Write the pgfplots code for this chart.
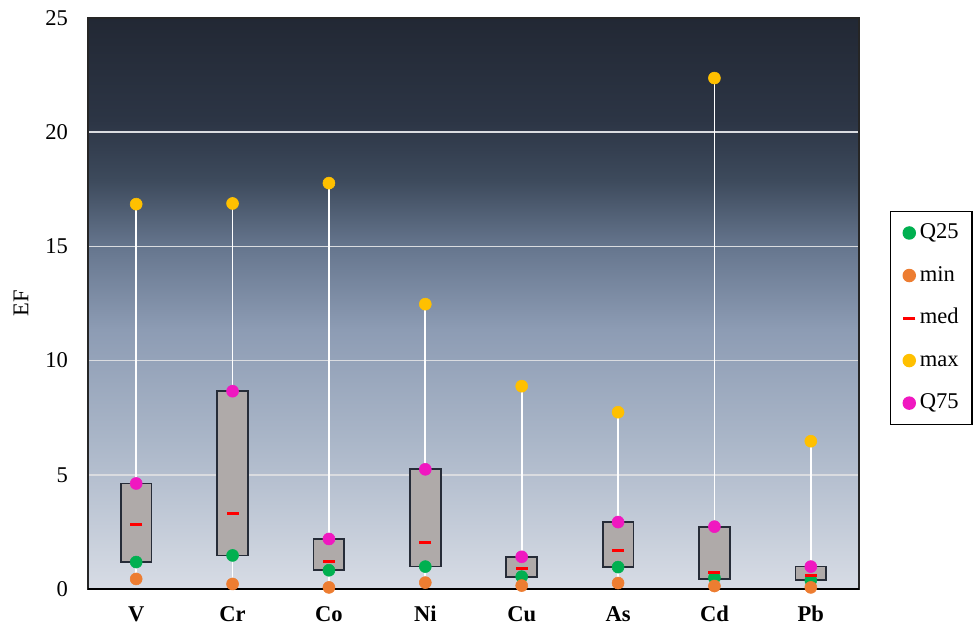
\documentclass[border=0pt]{standalone}
\usepackage{fontspec}
\setmainfont{Liberation Serif}
\usepackage{pgfplots}
\pgfplotsset{compat=1.18}
\usepgfplotslibrary{statistics}
\definecolor{q25c}{RGB}{0,176,80}
\definecolor{minc}{RGB}{237,125,49}
\definecolor{medc}{RGB}{255,0,0}
\definecolor{maxc}{RGB}{255,192,0}
\definecolor{q75c}{RGB}{240,24,192}
\definecolor{boxfill}{RGB}{175,170,169}
\definecolor{boxedge}{RGB}{38,44,56}
\definecolor{gridc}{RGB}{218,220,224}
\definecolor{bg0}{RGB}{215,220,229}
\definecolor{bg1}{RGB}{170,182,200}
\definecolor{bg2}{RGB}{141,156,180}
\definecolor{bg3}{RGB}{102,118,142}
\definecolor{bg4}{RGB}{61,74,92}
\definecolor{bg5}{RGB}{44,53,69}
\definecolor{bg6}{RGB}{34,40,52}
\pgfdeclareverticalshading{plotbg}{100bp}{color(0bp)=(bg0); color(25bp)=(bg0); color(38.05bp)=(bg1); color(47.7bp)=(bg2); color(54.95bp)=(bg3); color(60.8bp)=(bg4); color(66.05bp)=(bg5); color(75bp)=(bg6); color(100bp)=(bg6)}
\newcommand\chartfont{\fontsize{16.9}{20}\selectfont}
\begin{document}
\begin{tikzpicture}
\useasboundingbox (-66pt,-28.5pt) rectangle (664.5pt,441.75pt);
\begin{axis}[
  at={(0,0)}, anchor=south west,
  scale only axis, width=578.25pt, height=428.25pt,
  xmin=-0.5, xmax=7.5, ymin=0, ymax=25,
  xtick={0,1,2,3,4,5,6,7},
  xticklabels={V,Cr,Co,Ni,Cu,As,Cd,Pb},
  ytick={0,5,10,15,20,25},
  major tick length=0pt,
  ymajorgrids,
  grid style={line width=1.2pt, color=gridc},
  axis background/.style={shade, shading=plotbg},
  axis line style={black!85, line width=1pt},
  clip=false,
  /pgf/number format/assume math mode=true,
  yticklabel style={font=\chartfont, anchor=east, xshift=-11.5pt},
  xticklabel style={font=\chartfont\bfseries, anchor=north, inner ysep=1pt, yshift=-11.8pt},
  ylabel={EF},
  ylabel style={font=\chartfont, at={(axis description cs:-0.0869,0.5)}, anchor=center},
  boxplot/draw direction=y,
  boxplot/every box/.style={draw=boxedge, fill=boxfill, line width=1.3pt},
  boxplot/every whisker/.style={draw=white, line width=1.4pt},
  boxplot/every median/.style={draw=none},
  boxplot/box extend=0.32,
  boxplot/whisker extend=0,
  legend style={at={(1.0402,0.662)}, anchor=north west, font=\chartfont,
    draw=black, line width=1.1pt, fill=white,
    inner xsep=8pt, inner ysep=0pt, column sep=0pt,
    nodes={text height=11.5pt, text depth=3pt, inner ysep=8.7pt}},
  legend cell align=left,
  legend image code/.code={\path[draw=none, fill=none] (0.1pt,0pt) -- (12pt,0pt); \draw[#1] plot coordinates {(6pt,0pt)};},
]
\draw[black, line width=1.9pt] (axis cs:-0.5,0) -- (axis cs:7.5,0);
\addplot[forget plot, boxplot prepared={draw position=0, lower whisker=0.44, lower quartile=1.18, median=2.83, upper quartile=4.62, upper whisker=16.85}] coordinates {};
\addplot[forget plot, boxplot prepared={draw position=1, lower whisker=0.22, lower quartile=1.47, median=3.31, upper quartile=8.66, upper whisker=16.88}] coordinates {};
\addplot[forget plot, boxplot prepared={draw position=2, lower whisker=0.07, lower quartile=0.82, median=1.21, upper quartile=2.19, upper whisker=17.77}] coordinates {};
\addplot[forget plot, boxplot prepared={draw position=3, lower whisker=0.28, lower quartile=0.98, median=2.04, upper quartile=5.24, upper whisker=12.47}] coordinates {};
\addplot[forget plot, boxplot prepared={draw position=4, lower whisker=0.15, lower quartile=0.52, median=0.89, upper quartile=1.41, upper whisker=8.88}] coordinates {};
\addplot[forget plot, boxplot prepared={draw position=5, lower whisker=0.26, lower quartile=0.96, median=1.69, upper quartile=2.93, upper whisker=7.74}] coordinates {};
\addplot[forget plot, boxplot prepared={draw position=6, lower whisker=0.13, lower quartile=0.45, median=0.73, upper quartile=2.73, upper whisker=22.37}] coordinates {};
\addplot[forget plot, boxplot prepared={draw position=7, lower whisker=0.07, lower quartile=0.38, median=0.60, upper quartile=0.98, upper whisker=6.47}] coordinates {};
\addplot[only marks, mark=*, mark size=4.5pt, color=q25c] coordinates {(0,1.18) (1,1.47) (2,0.82) (3,0.98) (4,0.54) (5,0.96) (6,0.49) (7,0.38)};
\addlegendentry{Q25}
\addplot[only marks, mark=*, mark size=4.5pt, color=minc] coordinates {(0,0.44) (1,0.22) (2,0.07) (3,0.28) (4,0.15) (5,0.26) (6,0.13) (7,0.07)};
\addlegendentry{min}
\addplot[only marks, mark=-, mark size=4.5pt, color=medc, mark options={line width=2.2pt}] coordinates {(0,2.83) (1,3.31) (2,1.21) (3,2.04) (4,0.89) (5,1.69) (6,0.73) (7,0.60)};
\addlegendentry{med}
\addplot[only marks, mark=*, mark size=4.5pt, color=maxc] coordinates {(0,16.85) (1,16.88) (2,17.77) (3,12.47) (4,8.88) (5,7.74) (6,22.37) (7,6.47)};
\addlegendentry{max}
\addplot[only marks, mark=*, mark size=4.5pt, color=q75c] coordinates {(0,4.62) (1,8.66) (2,2.19) (3,5.24) (4,1.41) (5,2.93) (6,2.73) (7,0.98)};
\addlegendentry{Q75}
\end{axis}
\end{tikzpicture}
\end{document}
